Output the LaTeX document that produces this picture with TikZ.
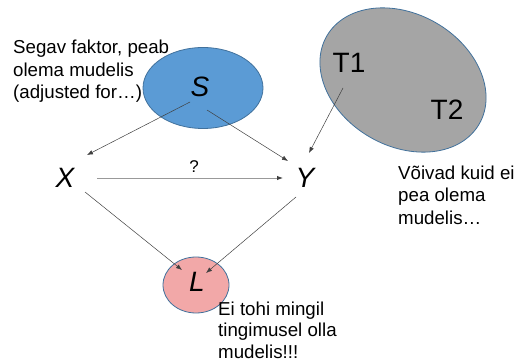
\documentclass[tikz,border=0pt]{standalone}
\usepackage{fontspec}
\setmainfont{Liberation Sans}
\usetikzlibrary{shapes.geometric,arrows.meta,calc}
\definecolor{sblue}{HTML}{5B9BD5}
\definecolor{edgeblue}{HTML}{41719C}
\definecolor{tgray}{HTML}{A5A5A5}
\definecolor{lpink}{HTML}{F2A8A8}
\definecolor{arrcol}{HTML}{404040}
\begin{document}
\begin{tikzpicture}[x=1pt,y=-1pt,
  blob/.style={ellipse,draw=edgeblue,line width=0.8pt,inner sep=0pt},
  varlbl/.style={font=\fontsize{28}{30}\selectfont\itshape,inner sep=0pt},
  tlbl/.style={font=\fontsize{28}{30}\selectfont,inner sep=0pt},
  note/.style={font=\fontsize{18.7}{22.5}\selectfont,align=left,inner sep=0pt,anchor=base west},
  arr/.style={draw=arrcol,line width=0.5pt,-{Latex[length=6pt,width=4.5pt]}}]
\useasboundingbox (0,0) rectangle (518,363);
% ellipses
\node[blob,fill=sblue,minimum width=120,minimum height=81] (S) at (203,88) {};
\node[blob,fill=tgray,minimum width=176,minimum height=132,rotate=-30] (T) at (403,80) {};
\node[blob,fill=lpink,minimum width=66,minimum height=56] (L) at (196,285) {};
% labels
\node[varlbl] (Slbl) at (200,87) {S};
\node[varlbl] (Llbl) at (197,282) {L};
\node[varlbl] (X) at (65,178) {X};
\node[varlbl] (Y) at (305,178) {Y};
\node[tlbl] (T1) at (349,63) {T1};
\node[tlbl] (T2) at (447,110) {T2};
\node[font=\fontsize{17}{20}\selectfont,inner sep=0pt] (q) at (194,167) {?};
% notes (anchor = baseline of last line)
\node[note] (n1) at (13,99) {Segav faktor, peab\\olema mudelis\\(adjusted for…)};
\node[note] (n2) at (398,224) {Võivad kuid ei\\pea olema\\mudelis…};
\node[note,font=\fontsize{18.7}{21.5}\selectfont] (n3) at (218,358) {Ei tohi mingil\\tingimusel olla\\mudelis!!!};
% connectors
\draw[arr] ($(S)+(-13,14)$) -- ($(X)+(22,-23)$);
\draw[arr] ($(S)+(4,22)$) -- ($(Y)+(-17,-17)$);
\draw[arr] ($(T1)+(-6,25)$) -- ($(Y)+(4,-25)$);
\draw[draw=black!40,line width=0.9pt,-{Latex[length=6pt,width=4.5pt,color=arrcol]}] ($(X)+(32,0)$) -- ($(Y)+(-22,0)$);
\draw[arr] ($(X)+(20,14)$) -- ($(L)+(-14,-15)$);
\draw[arr] ($(Y)+(-9,19)$) -- ($(L)+(10,-12)$);
\end{tikzpicture}
\end{document}
